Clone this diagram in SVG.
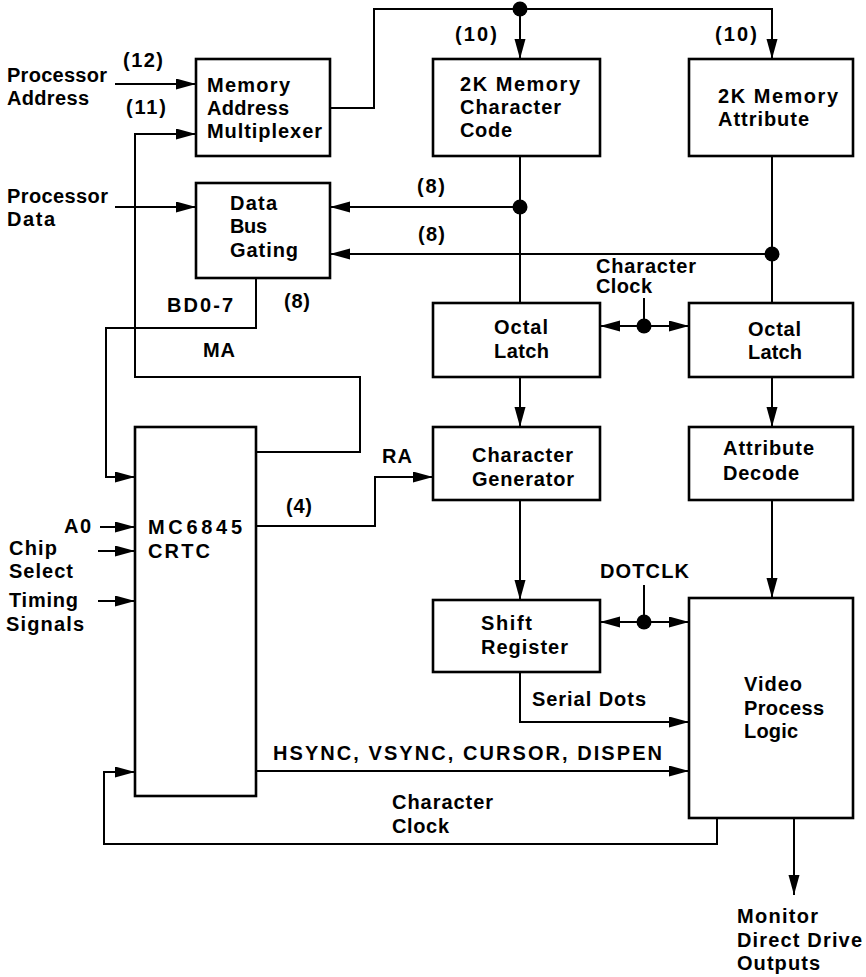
<svg xmlns="http://www.w3.org/2000/svg" width="866" height="977" viewBox="0 0 866 977">
<style>
.box{fill:#fff;stroke:#000;stroke-width:2.6}
.ln{fill:none;stroke:#000;stroke-width:2}
.arr{marker-end:url(#ah)}
text{font-family:"Liberation Sans",Arial,sans-serif;font-weight:bold;font-size:20px;fill:#000}
</style>
<defs>
<marker id="ah" markerUnits="userSpaceOnUse" markerWidth="21" markerHeight="12" refX="20" refY="5.5" orient="auto">
<path d="M0,0 L20,5.5 L0,11 z" fill="#000"/>
</marker>
</defs>
<rect width="866" height="977" fill="#fff"/>
<g id="connectors">
<path class="ln arr" d="M115,84 H196"/>
<path class="ln arr" d="M256,452 H360 V377 H135 V134 H196"/>
<path class="ln arr" d="M115,207 H196"/>
<path class="ln arr" d="M520,207 H330"/>
<path class="ln arr" d="M772,254 H330"/>
<path class="ln arr" d="M256,278 V328 H106 V477 H135"/>
<path class="ln arr" d="M330,108 H374 V9 H772 V59"/>
<path class="ln arr" d="M520,9 V59"/>
<path class="ln" d="M520,156 V303"/>
<path class="ln" d="M772,156 V303"/>
<path class="ln" d="M644,298 V326"/>
<path class="ln arr" d="M644,326 H600"/>
<path class="ln arr" d="M644,326 H689"/>
<path class="ln arr" d="M520,377 V427"/>
<path class="ln arr" d="M772,377 V427"/>
<path class="ln arr" d="M256,526 H375 V477 H433"/>
<path class="ln arr" d="M520,500 V600"/>
<path class="ln arr" d="M772,500 V598"/>
<path class="ln" d="M644,585 V622"/>
<path class="ln arr" d="M644,622 H600"/>
<path class="ln arr" d="M644,622 H689"/>
<path class="ln arr" d="M520,672 V722 H689"/>
<path class="ln arr" d="M256,771 H689"/>
<path class="ln arr" d="M717,818 V844 H104 V772 H135"/>
<path class="ln arr" d="M794,818 V895"/>
<path class="ln arr" d="M100,527 H135"/>
<path class="ln arr" d="M98,551 H135"/>
<path class="ln arr" d="M98,601 H135"/>
<circle cx="520" cy="9" r="7.5"/>
<circle cx="520" cy="207" r="7.5"/>
<circle cx="772" cy="254" r="7.5"/>
<circle cx="644" cy="326" r="7.5"/>
<circle cx="644" cy="622" r="7.5"/>
</g>
<g id="labels">
<text x="7" y="82" textLength="100" lengthAdjust="spacing">Processor</text>
<text x="7" y="105" textLength="82" lengthAdjust="spacing">Address</text>
<text x="123" y="67" textLength="40" lengthAdjust="spacing">(12)</text>
<text x="126" y="114" textLength="40" lengthAdjust="spacing">(11)</text>
<text x="7" y="203" textLength="101" lengthAdjust="spacing">Processor</text>
<text x="7" y="226" textLength="48" lengthAdjust="spacing">Data</text>
<text x="417" y="193" textLength="28" lengthAdjust="spacing">(8)</text>
<text x="418" y="241" textLength="27" lengthAdjust="spacing">(8)</text>
<text x="167" y="312" textLength="66" lengthAdjust="spacing">BD0-7</text>
<text x="284" y="308" textLength="26" lengthAdjust="spacing">(8)</text>
<text x="203" y="357" textLength="32" lengthAdjust="spacing">MA</text>
<text x="382" y="463" textLength="30" lengthAdjust="spacing">RA</text>
<text x="286" y="513" textLength="26" lengthAdjust="spacing">(4)</text>
<text x="64" y="533" textLength="27" lengthAdjust="spacing">A0</text>
<text x="9" y="555" textLength="48" lengthAdjust="spacing">Chip</text>
<text x="9" y="578" textLength="64" lengthAdjust="spacing">Select</text>
<text x="9" y="607" textLength="69" lengthAdjust="spacing">Timing</text>
<text x="6" y="631" textLength="78" lengthAdjust="spacing">Signals</text>
<text x="455" y="41" textLength="42" lengthAdjust="spacing">(10)</text>
<text x="715" y="41" textLength="42" lengthAdjust="spacing">(10)</text>
<text x="596" y="273" textLength="100" lengthAdjust="spacing">Character</text>
<text x="596" y="293" textLength="56" lengthAdjust="spacing">Clock</text>
<text x="600" y="578" textLength="89" lengthAdjust="spacing">DOTCLK</text>
<text x="532" y="706" textLength="114" lengthAdjust="spacing">Serial Dots</text>
<text x="273" y="760" textLength="389" lengthAdjust="spacing">HSYNC, VSYNC, CURSOR, DISPEN</text>
<text x="392" y="809" textLength="101" lengthAdjust="spacing">Character</text>
<text x="392" y="833" textLength="57" lengthAdjust="spacing">Clock</text>
<text x="737" y="923" textLength="81" lengthAdjust="spacing">Monitor</text>
<text x="737" y="947" textLength="125" lengthAdjust="spacing">Direct Drive</text>
<text x="737" y="970" textLength="83" lengthAdjust="spacing">Outputs</text>
</g>
<g id="mux">
<rect class="box" x="196" y="59" width="134" height="97"/>
<text x="207" y="92" textLength="83" lengthAdjust="spacing">Memory</text>
<text x="207" y="115" textLength="82" lengthAdjust="spacing">Address</text>
<text x="207" y="138" textLength="115" lengthAdjust="spacing">Multiplexer</text>
</g>
<g id="databus">
<rect class="box" x="196" y="183" width="134" height="95"/>
<text x="230" y="210" textLength="47" lengthAdjust="spacing">Data</text>
<text x="230" y="233" textLength="37" lengthAdjust="spacing">Bus</text>
<text x="230" y="257" textLength="68" lengthAdjust="spacing">Gating</text>
</g>
<g id="crtc">
<rect class="box" x="135" y="427" width="121" height="369"/>
<text x="148" y="534" textLength="94" lengthAdjust="spacing">MC6845</text>
<text x="148" y="558" textLength="62" lengthAdjust="spacing">CRTC</text>
</g>
<g id="charcode">
<rect class="box" x="433" y="59" width="167" height="97"/>
<text x="460" y="91" textLength="120" lengthAdjust="spacing">2K Memory</text>
<text x="460" y="114" textLength="101" lengthAdjust="spacing">Character</text>
<text x="460" y="137" textLength="52" lengthAdjust="spacing">Code</text>
</g>
<g id="attrmem">
<rect class="box" x="689" y="59" width="164" height="97"/>
<text x="718" y="103" textLength="120" lengthAdjust="spacing">2K Memory</text>
<text x="718" y="126" textLength="91" lengthAdjust="spacing">Attribute</text>
</g>
<g id="latch1">
<rect class="box" x="433" y="303" width="167" height="74"/>
<text x="494" y="334" textLength="54" lengthAdjust="spacing">Octal</text>
<text x="494" y="358" textLength="55" lengthAdjust="spacing">Latch</text>
</g>
<g id="latch2">
<rect class="box" x="689" y="303" width="164" height="74"/>
<text x="748" y="336" textLength="53" lengthAdjust="spacing">Octal</text>
<text x="748" y="359" textLength="54" lengthAdjust="spacing">Latch</text>
</g>
<g id="chargen">
<rect class="box" x="433" y="427" width="167" height="73"/>
<text x="472" y="462" textLength="101" lengthAdjust="spacing">Character</text>
<text x="472" y="486" textLength="102" lengthAdjust="spacing">Generator</text>
</g>
<g id="attrdec">
<rect class="box" x="689" y="427" width="164" height="73"/>
<text x="723" y="455" textLength="91" lengthAdjust="spacing">Attribute</text>
<text x="723" y="480" textLength="76" lengthAdjust="spacing">Decode</text>
</g>
<g id="shiftreg">
<rect class="box" x="433" y="600" width="167" height="72"/>
<text x="481" y="630" textLength="51" lengthAdjust="spacing">Shift</text>
<text x="481" y="654" textLength="87" lengthAdjust="spacing">Register</text>
</g>
<g id="vpl">
<rect class="box" x="689" y="598" width="164" height="220"/>
<text x="744" y="691" textLength="58" lengthAdjust="spacing">Video</text>
<text x="744" y="715" textLength="80" lengthAdjust="spacing">Process</text>
<text x="744" y="738" textLength="54" lengthAdjust="spacing">Logic</text>
</g>
</svg>
